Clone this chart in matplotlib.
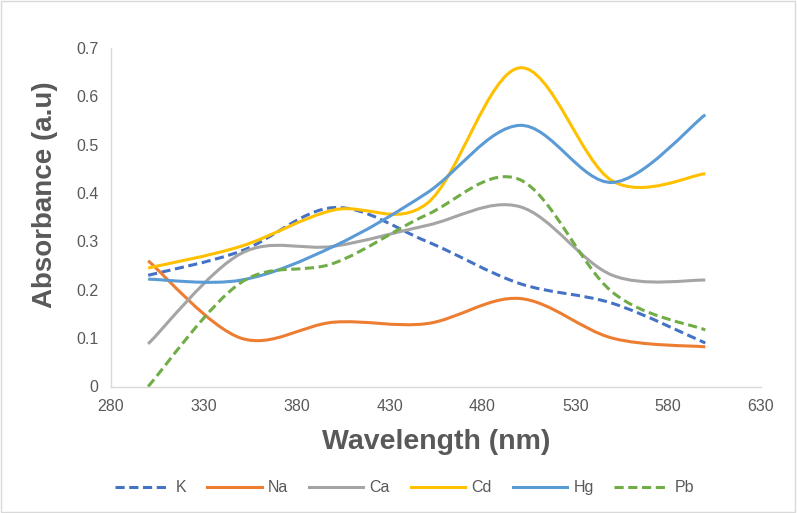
import numpy as np
import matplotlib
matplotlib.use('Agg')
import matplotlib.pyplot as plt
from matplotlib.path import Path
from matplotlib.patches import PathPatch, Rectangle
from matplotlib.lines import Line2D

plt.rcParams['font.family'] = ['Liberation Sans', 'DejaVu Sans']

# 波长 (nm)
wavelength = [300, 350, 400, 450, 500, 550, 600]

# 各元素吸光度
k_vals = [0.230, 0.280, 0.370, 0.300, 0.213, 0.172, 0.090]
na_vals = [0.260, 0.100, 0.133, 0.130, 0.182, 0.100, 0.082]
ca_vals = [0.088, 0.275, 0.290, 0.333, 0.372, 0.230, 0.220]
cd_vals = [0.245, 0.290, 0.365, 0.378, 0.659, 0.425, 0.440]
hg_vals = [0.222, 0.220, 0.290, 0.400, 0.540, 0.422, 0.562]
pb_vals = [0.000, 0.215, 0.255, 0.355, 0.428, 0.195, 0.117]

series = [
    ('K', k_vals, '#4472C4', (0, (3, 1.5))),
    ('Na', na_vals, '#ED7D31', '-'),
    ('Ca', ca_vals, '#A5A5A5', '-'),
    ('Cd', cd_vals, '#FFC000', '-'),
    ('Hg', hg_vals, '#5B9BD5', '-'),
    ('Pb', pb_vals, '#70AD47', (0, (3, 1.5))),
]

TXT = '#595959'


def smooth_path(x, y):
    # Excel 风格平滑曲线 (Catmull-Rom -> Bezier)
    pts = np.column_stack([x, y]).astype(float)
    n = len(pts)
    verts = [pts[0]]
    codes = [Path.MOVETO]
    for i in range(n - 1):
        p0 = pts[i - 1] if i > 0 else pts[i]
        p1 = pts[i]
        p2 = pts[i + 1]
        p3 = pts[i + 2] if i + 2 < n else pts[i + 1]
        c1 = p1 + (p2 - p0) / 6.0
        c2 = p2 - (p3 - p1) / 6.0
        verts += [c1, c2, p2]
        codes += [Path.CURVE4] * 3
    return Path(verts, codes)


fig = plt.figure(figsize=(7.97, 5.13), dpi=100)
ax = fig.add_axes([111 / 797, 1 - 386.5 / 513, 650 / 797, 338.5 / 513])

handles = []
for name, vals, color, ls in series:
    patch = PathPatch(smooth_path(wavelength, vals), facecolor='none', edgecolor=color,
                      linewidth=2.2, linestyle=ls, capstyle='butt', zorder=3)
    ax.add_patch(patch)
    handles.append(Line2D([0], [0], color=color, linewidth=2.2, linestyle=ls, label=name))

ax.set_xlim(280, 630)
ax.set_ylim(0, 0.7)
ax.set_xticks(np.arange(280, 631, 50))
ax.set_yticks(np.arange(0, 0.71, 0.1))
ax.set_yticklabels(['0', '0.1', '0.2', '0.3', '0.4', '0.5', '0.6', '0.7'])

for s in ['top', 'right']:
    ax.spines[s].set_visible(False)
for s in ['left', 'bottom']:
    ax.spines[s].set_color('#D9D9D9')
    ax.spines[s].set_linewidth(1.0)
ax.tick_params(length=0, labelsize=11.5, labelcolor=TXT, pad=9)

ax.set_xlabel('Wavelength (nm)', fontsize=20.5, fontweight='bold', color=TXT, labelpad=11)
ax.set_ylabel('Absorbance (a.u)', fontsize=20, fontweight='bold', color=TXT)
ax.yaxis.set_label_coords(-0.082, (386.5 - 195) / 338.5)

fig.legend(handles=handles, loc='center', bbox_to_anchor=(0.508, 1 - 488 / 513), ncol=6,
           frameon=False, fontsize=11.5, labelcolor=TXT, handlelength=3.4,
           columnspacing=1.3, handletextpad=0.4)

fig.patches.append(Rectangle((0.001, 0.001), 0.997, 0.997, transform=fig.transFigure,
                             fill=False, edgecolor='#D9D9D9', linewidth=1.0))

fig.savefig('out.png', dpi=100)
